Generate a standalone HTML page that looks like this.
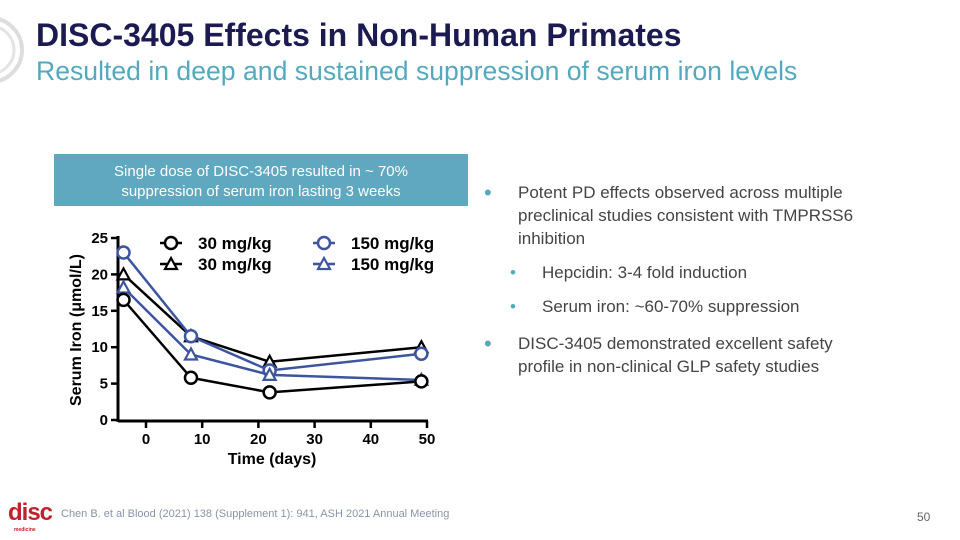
<!DOCTYPE html>
<html><head><meta charset="utf-8"><style>
body{margin:0;width:960px;height:540px;background:#fff;font-family:"Liberation Sans",sans-serif;position:relative;overflow:hidden}
.abs{position:absolute}
</style></head><body>
<svg class="abs" style="left:0;top:0" width="40" height="120">
<circle cx="-10" cy="50" r="32" fill="none" stroke="#ddd" stroke-width="4"/>
<circle cx="-10" cy="50" r="24" fill="none" stroke="#e4e4e4" stroke-width="3"/>
</svg>
<div class="abs" style="left:36px;top:17px;font-size:32px;font-weight:bold;color:#1b1b52">DISC-3405 Effects in Non-Human Primates</div>
<div class="abs" style="left:36px;top:56px;font-size:26.6px;color:#55a9bf">Resulted in deep and sustained suppression of serum iron levels</div>
<div class="abs" style="left:54px;top:154px;width:414px;height:52px;background:#5fa8bf;color:#fff;font-size:15px;text-align:center;line-height:20px;padding-top:8px;box-sizing:border-box">Single dose of DISC-3405 resulted in ~ 70%<br>suppression of serum iron lasting 3 weeks</div>
<div class="abs" style="left:480px;top:181px;width:390px;font-size:17px;color:#444;line-height:23px">
<div style="position:relative;padding-left:38px"><span style="position:absolute;left:4px;color:#55a9bf;font-size:22px">•</span>Potent PD effects observed across multiple preclinical studies consistent with TMPRSS6 inhibition</div>
<div style="position:relative;padding-left:62px;margin-top:11px"><span style="position:absolute;left:30px;color:#55a9bf">•</span>Hepcidin: 3-4 fold induction</div>
<div style="position:relative;padding-left:62px;margin-top:11px"><span style="position:absolute;left:30px;color:#55a9bf">•</span>Serum iron: ~60-70% suppression</div>
<div style="position:relative;padding-left:38px;margin-top:14px"><span style="position:absolute;left:4px;color:#55a9bf;font-size:22px">•</span>DISC-3405 demonstrated excellent safety profile in non-clinical GLP safety studies</div>
</div>
<svg id="chart" class="abs" style="left:0;top:0" width="960" height="540"></svg>
<div class="abs" style="left:8px;top:499px;font-size:24px;font-weight:bold;color:#c0212f;letter-spacing:-1px">disc<span style="font-size:5px;position:absolute;left:6px;top:28px;letter-spacing:0">medicine</span></div>
<div class="abs" style="left:61px;top:508px;font-size:11px;color:#8a93a6">Chen B. et al Blood (2021) 138 (Supplement 1): 941, ASH 2021 Annual Meeting</div>
<div class="abs" style="left:917px;top:510px;font-size:12px;color:#666">50</div>
<script>
const times=[-4,8,22,49];
const s30circ=[16.5,5.8,3.8,5.3];
const s30tri=[20,11.5,8,10];
const s150circ=[23,11.5,6.8,9.1];
const s150tri=[18.2,9,6.2,5.5];
const xTicks=[0,10,20,30,40,50];
const yTicks=[0,5,10,15,20,25];
const NS="http://www.w3.org/2000/svg";
const svg=document.getElementById('chart');
const X=v=>146+(v-0)*5.62, Y=v=>420-v*7.28;
function mk(t,a,p){const e=document.createElementNS(NS,t);for(const k in a)e.setAttribute(k,a[k]);(p||svg).appendChild(e);return e;}
let ax=mk('line',{x1:118,y1:421,x2:428,y2:421,stroke:'#000','stroke-width':3});


let ay=mk('line',{x1:118,y1:236,x2:118,y2:422,stroke:'#000','stroke-width':3});


xTicks.forEach(v=>{mk('line',{x1:X(v),y1:421,x2:X(v),y2:428,stroke:'#000','stroke-width':2.5});
const t=mk('text',{x:X(v),y:444,'text-anchor':'middle','font-size':15,'font-weight':'bold'});t.textContent=v;

});
yTicks.forEach(v=>{mk('line',{x1:111,y1:Y(v),x2:118,y2:Y(v),stroke:'#000','stroke-width':2.5});
const t=mk('text',{x:108,y:Y(v)+5,'text-anchor':'end','font-size':15,'font-weight':'bold'});t.textContent=v;

});
let xt=mk('text',{x:272,y:464,'text-anchor':'middle','font-size':16,'font-weight':'bold'});xt.textContent='Time (days)';


let yt=mk('text',{x:0,y:0,'text-anchor':'middle','font-size':16,'font-weight':'bold',transform:'translate(81,330) rotate(-90)'});yt.textContent='Serum Iron (\u03bcmol/L)';


function marker(x,y,shape,col,g){
 if(shape==='c')mk('circle',{cx:x,cy:y,r:6,fill:'#fff',stroke:col,'stroke-width':2.5},g);
 else mk('polygon',{points:`${x},${y-6} ${x-6},${y+5} ${x+6},${y+5}`,fill:'#fff',stroke:col,'stroke-width':2.2},g);
}
const series=[[s30tri,'t','#000','30-mg-tri'],[s150circ,'c','#3d55a0','150-mg-circle'],[s150tri,'t','#3d55a0','150-mg-tri'],[s30circ,'c','#000','30-mg-circle']];
series.forEach(([d,sh,col,nm])=>{
 const g=mk('g',{});
 
 
 mk('polyline',{points:times.map((t,i)=>X(t)+','+Y(d[i])).join(' '),fill:'none',stroke:col,'stroke-width':2.5},g);
 times.forEach((t,i)=>marker(X(t),Y(d[i]),sh,col,g));
});
const legend=[[170,243,'c','#000','30 mg/kg'],[170,264,'t','#000','30 mg/kg'],[323,243,'c','#3d55a0','150 mg/kg'],[323,264,'t','#3d55a0','150 mg/kg']];
legend.forEach(([x,y,sh,col,lab])=>{
 const g=mk('g',{});
 
 
 mk('line',{x1:x-10,y1:y,x2:x+12,y2:y,stroke:col,'stroke-width':2.5},g);
 marker(x+1,y,sh,col,g);
 const t=mk('text',{x:x+28,y:y+6,'font-size':17,'font-weight':'bold'},g);t.textContent=lab;
});
</script>
</body></html>
